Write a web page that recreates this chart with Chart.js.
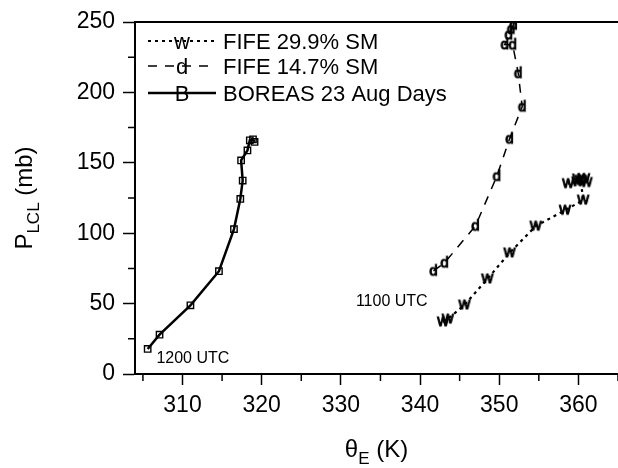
<!DOCTYPE html>
<html>
<head>
<meta charset="utf-8">
<script src="https://cdn.jsdelivr.net/npm/chart.js@4.4.0/dist/chart.umd.min.js"></script>
<style>
  body { margin: 0; background: #fff; }
  #wrap { width: 618px; height: 468px; }
</style>
</head>
<body>
<div id="wrap"><canvas id="lclChart" width="618" height="468"></canvas></div>
<script>
// ---- data ----
const seriesNames = ['FIFE 29.9% SM', 'FIFE 14.7% SM', 'BOREAS 23 Aug Days'];
const seriesGlyphs = ['w', 'd', 'B'];

// FIFE 29.9% soil moisture (w, dotted)
const wetTheta = [342.9, 343.5, 345.6, 348.5, 351.3, 354.6, 358.3, 360.6, 360.3, 360.0, 360.7, 361.0, 359.9, 358.7];
const wetP     = [37.0, 39.0, 49.0, 67.5, 86.0, 105.0, 116.3, 123.5, 137.5, 138.5, 138.8, 136.0, 136.5, 135.2];

// FIFE 14.7% soil moisture (d, dashed)
const dryTheta = [341.7, 343.1, 347.0, 349.7, 351.3, 352.9, 352.4, 351.7, 350.7, 351.2, 351.5, 351.8];
const dryP     = [73.2, 79.0, 105.2, 140.5, 167.0, 189.8, 213.6, 233.8, 234.0, 241.0, 245.0, 248.0];

// BOREAS (squares, solid)
const borTheta = [305.6, 307.1, 311.0, 314.6, 316.5, 317.3, 317.6, 317.4, 318.2, 318.5, 318.9, 319.1];
const borP     = [17.8, 27.9, 48.8, 73.0, 102.9, 124.3, 137.4, 151.7, 158.8, 166.0, 166.7, 164.8];

const xTicks = [310, 320, 330, 340, 350, 360];
const xMinor = [305, 315, 325, 335, 345, 355, 365];
const yTicks = [0, 50, 100, 150, 200, 250];
const yMinor = [25, 75, 125, 175, 225];

const notes = [
  { text: '1200 UTC', theta: 306.7, p: 10.7 },
  { text: '1100 UTC', theta: 331.9, p: 51.4 }
];

const FONT = "'Liberation Sans', Arial, Helvetica, sans-serif";

function zip(xs, ys) {
  return xs.map((x, i) => ({ x: x, y: ys[i] }));
}

// small letter markers like the original plot
function glyph(ch, size) {
  const c = document.createElement('canvas');
  c.width = size + 4;
  c.height = size + 4;
  const g = c.getContext('2d');
  g.fillStyle = '#000';
  g.font = size + 'px ' + FONT;
  g.textAlign = 'center';
  g.textBaseline = 'middle';
  g.fillText(ch, c.width / 2, c.height / 2);
  g.lineWidth = 1;
  g.strokeStyle = '#000';
  g.strokeText(ch, c.width / 2, c.height / 2);
  return c;
}

// minor ticks, top frame line, legend, axis titles and notes
const decor = {
  id: 'decor',
  afterDraw(chart) {
    const { ctx, chartArea: a, scales } = chart;
    const x = scales.x, y = scales.y;
    ctx.save();
    ctx.strokeStyle = '#000';
    ctx.fillStyle = '#000';

    // minor ticks
    ctx.lineWidth = 1.5;
    ctx.beginPath();
    xMinor.forEach(v => {
      const px = x.getPixelForValue(v);
      if (px > a.right + 1) return;
      ctx.moveTo(px, a.bottom);
      ctx.lineTo(px, a.bottom + 7);
    });
    yMinor.forEach(v => {
      const py = y.getPixelForValue(v);
      ctx.moveTo(a.left, py);
      ctx.lineTo(a.left - 7, py);
    });
    ctx.stroke();

    // top frame
    ctx.lineWidth = 2;
    ctx.beginPath();
    ctx.moveTo(a.left, a.top);
    ctx.lineTo(a.right, a.top);
    ctx.stroke();

    // legend
    const rows = [42, 67, 94];
    chart.data.datasets.forEach((ds, i) => {
      const ly = rows[i];
      ctx.lineWidth = ds.borderWidth;
      ctx.setLineDash(ds.borderDash || []);
      ctx.beginPath();
      ctx.moveTo(148, ly - 1);
      ctx.lineTo(216, ly - 1);
      ctx.stroke();
      ctx.setLineDash([]);
      ctx.font = '22px ' + FONT;
      ctx.textAlign = 'center';
      ctx.textBaseline = 'middle';
      ctx.fillText(seriesGlyphs[i], 182, ly + 1);
      ctx.textAlign = 'left';
      ctx.fillText(seriesNames[i], 223, ly + 1);
    });

    // notes
    ctx.font = '16px ' + FONT;
    ctx.textAlign = 'left';
    ctx.textBaseline = 'middle';
    notes.forEach(n => {
      ctx.fillText(n.text, x.getPixelForValue(n.theta), y.getPixelForValue(n.p));
    });

    // x title: theta_E (K)
    ctx.textBaseline = 'alphabetic';
    const big = '24px ' + FONT, small = '17px ' + FONT;
    ctx.font = big;
    const wT = ctx.measureText('\u03B8').width;
    const wK = ctx.measureText(' (K)').width;
    ctx.font = small;
    const wE = ctx.measureText('E').width;
    let sx = (a.left + a.right) / 2 - (wT + wE + wK) / 2;
    ctx.font = big;
    ctx.fillText('\u03B8', sx, 457);
    ctx.font = small;
    ctx.fillText('E', sx + wT, 464);
    ctx.font = big;
    ctx.fillText(' (K)', sx + wT + wE, 457);

    // y title: P_LCL (mb)
    ctx.translate(32, (a.top + a.bottom) / 2);
    ctx.rotate(-Math.PI / 2);
    ctx.font = big;
    const wP = ctx.measureText('P').width;
    const wMb = ctx.measureText(' (mb)').width;
    ctx.font = small;
    const wL = ctx.measureText('LCL').width;
    let sy = -(wP + wL + wMb) / 2;
    ctx.font = big;
    ctx.fillText('P', sy, 0);
    ctx.font = small;
    ctx.fillText('LCL', sy + wP, 7);
    ctx.font = big;
    ctx.fillText(' (mb)', sy + wP + wL, 0);
    ctx.restore();
  }
};

const ctx = document.getElementById('lclChart').getContext('2d');
const lclChart = new Chart(ctx, {
  type: 'scatter',
  data: {
    datasets: [{
      label: seriesNames[0],
      data: zip(wetTheta, wetP),
      showLine: true,
      borderColor: '#000',
      borderWidth: 2.2,
      borderDash: [3, 4],
      pointStyle: glyph('w', 16),
      pointRadius: 6
    }, {
      label: seriesNames[1],
      data: zip(dryTheta, dryP),
      showLine: true,
      borderColor: '#000',
      borderWidth: 1.5,
      borderDash: [9, 8],
      pointStyle: glyph('d', 15),
      pointRadius: 6
    }, {
      label: seriesNames[2],
      data: zip(borTheta, borP),
      showLine: true,
      borderColor: '#000',
      borderWidth: 2.5,
      backgroundColor: 'rgba(0,0,0,0)',
      pointStyle: 'rect',
      pointRadius: 4.5,
      pointBorderWidth: 1.4
    }]
  },
  options: {
    responsive: false,
    animation: false,
    devicePixelRatio: 1,
    layout: { autoPadding: false, padding: { top: 22, right: 0, left: 0, bottom: 0 } },
    plugins: {
      legend: { display: false },
      tooltip: { enabled: false }
    },
    scales: {
      x: {
        type: 'linear',
        min: 304,
        max: 365,
        afterBuildTicks: s => { s.ticks = xTicks.map(v => ({ value: v })); },
        afterFit: s => { s.height = 94; s.paddingLeft = 0; s.paddingRight = 0; },
        grid: { drawOnChartArea: false, tickLength: 11, tickWidth: 1.5, tickColor: '#000' },
        border: { display: true, color: '#000', width: 2 },
        ticks: { color: '#000', font: { family: FONT, size: 23 }, padding: 7, maxRotation: 0 }
      },
      y: {
        type: 'linear',
        min: 0,
        max: 250,
        afterBuildTicks: s => { s.ticks = yTicks.map(v => ({ value: v })); },
        afterFit: s => { s.width = 135; },
        grid: { drawOnChartArea: false, tickLength: 12, tickWidth: 1.5, tickColor: '#000' },
        border: { display: true, color: '#000', width: 2 },
        ticks: { color: '#000', font: { family: FONT, size: 23 }, padding: 8 }
      }
    }
  },
  plugins: [decor]
});
</script>
</body>
</html>
